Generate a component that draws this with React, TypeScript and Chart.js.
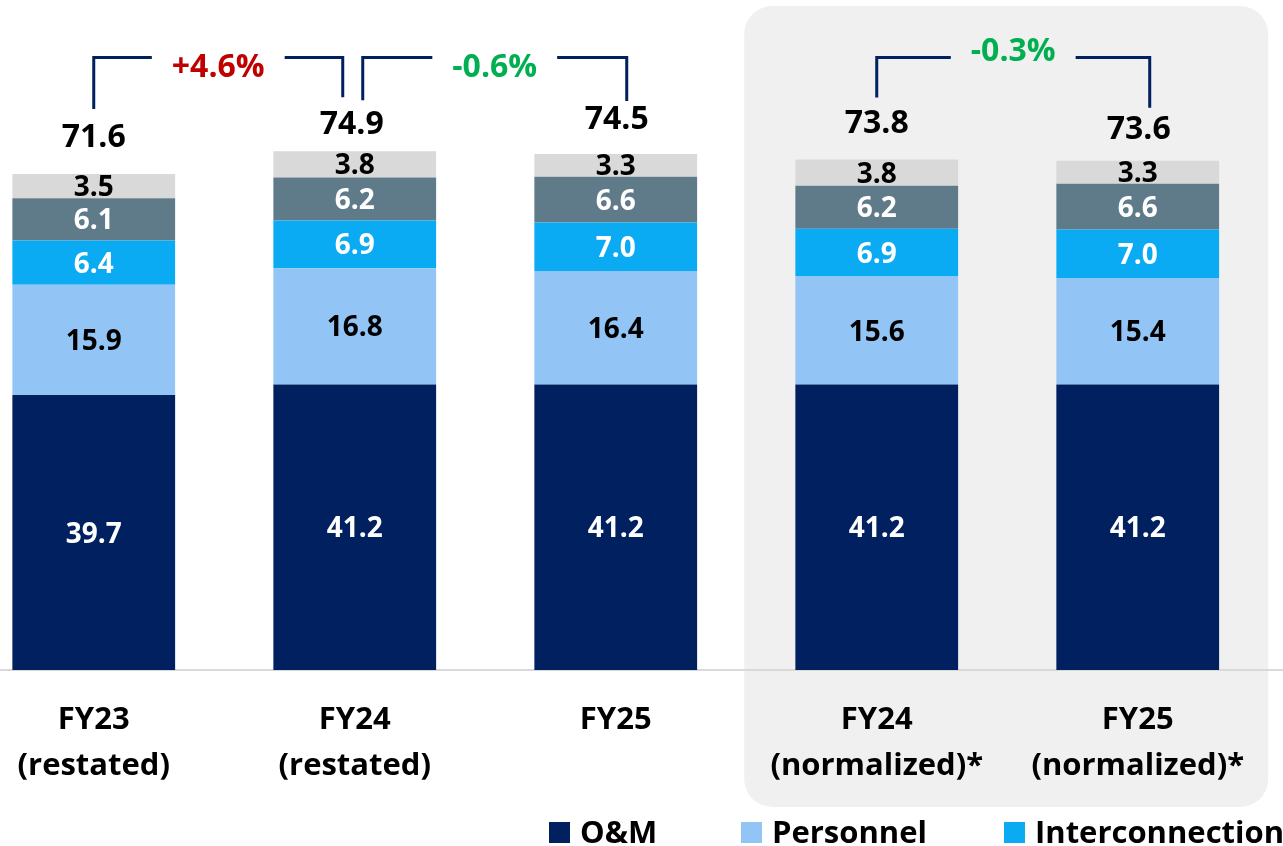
import { useEffect, useRef } from "react";
import { Chart, registerables } from "chart.js";

Chart.register(...registerables);

// ---- data ----
const categories: string[][] = [
  ["FY23", "(restated)"],
  ["FY24", "(restated)"],
  ["FY25"],
  ["FY24", "(normalized)*"],
  ["FY25", "(normalized)*"],
];
const seriesNames = ["O&M", "Personnel", "Interconnection", "Other costs", "Other"];
const omValues = [39.7, 41.2, 41.2, 41.2, 41.2];
const personnelValues = [15.9, 16.8, 16.4, 15.6, 15.4];
const interconnectionValues = [6.4, 6.9, 7.0, 6.9, 7.0];
const otherCostsValues = [6.1, 6.2, 6.6, 6.2, 6.6];
const otherValues = [3.5, 3.8, 3.3, 3.8, 3.3];
const totals = [71.6, 74.9, 74.5, 73.8, 73.6];
const changeLabels = ["+4.6%", "-0.6%", "-0.3%"];
const changeFrom = [0, 1, 3];
const changeTo = [1, 2, 4];

// ---- styles ----
const FONT = "'Open Sans', Lato, sans-serif";
const COLORS = ["#002060", "#92C5F5", "#0AABF2", "#5F7B8A", "#D9D9D9"];
const LABEL_COLORS = ["#FFFFFF", "#000000", "#FFFFFF", "#FFFFFF", "#000000"];
const NAVY = "#002060";
const RED = "#C00000";
const GREEN = "#00B050";
const CAP = 0.36; // half cap-height ratio for vertical centering

// layout tweaks (pixels)
const TOTAL_GAP = [39, 29, 36, 38, 33];
const TOTAL_DX = [0, -3, 1, 0, 1];
const BRACKET_DX = [[0, -12], [8, 11], [0, 12]];
const BRACKET_GAP = [[65, 54], [51, 53], [62, 53]];
const BRACKET_Y = 57.5;
const BRACKET_LABEL_DY = [8, 8, -8];

function roundRect(ctx: CanvasRenderingContext2D, x: number, y: number, w: number, h: number, r: number) {
  ctx.beginPath();
  ctx.moveTo(x + r, y);
  ctx.lineTo(x + w - r, y);
  ctx.arcTo(x + w, y, x + w, y + r, r);
  ctx.lineTo(x + w, y + h - r);
  ctx.arcTo(x + w, y + h, x + w - r, y + h, r);
  ctx.lineTo(x + r, y + h);
  ctx.arcTo(x, y + h, x, y + h - r, r);
  ctx.lineTo(x, y + r);
  ctx.arcTo(x, y, x + r, y, r);
  ctx.closePath();
}

const overlayPlugin = {
  id: "overlay",
  beforeDraw(chart: any) {
    const { ctx } = chart;
    const xs = chart.scales.x;
    ctx.save();
    ctx.fillStyle = "#FFFFFF";
    ctx.fillRect(0, 0, chart.width, chart.height);
    const l = xs.getPixelForValue(2.5) - 2;
    const r = xs.getPixelForValue(4.5);
    roundRect(ctx, l, 6, r - l, 801, 28);
    ctx.fillStyle = "#F0F0F0";
    ctx.fill();
    ctx.restore();
  },
  afterDatasetsDraw(chart: any) {
    const { ctx } = chart;
    ctx.save();
    ctx.textAlign = "center";
    ctx.textBaseline = "alphabetic";

    // segment labels
    const segSize = 28;
    ctx.font = `bold ${segSize}px ${FONT}`;
    chart.data.datasets.forEach((ds: any, d: number) => {
      const meta = chart.getDatasetMeta(d);
      meta.data.forEach((el: any, i: number) => {
        const cy = (el.y + el.base) / 2;
        ctx.fillStyle = LABEL_COLORS[d];
        ctx.fillText(Number(ds.data[i].y).toFixed(1), el.x, cy + segSize * CAP);
      });
    });

    // totals
    const topMeta = chart.getDatasetMeta(chart.data.datasets.length - 1);
    const totSize = 32;
    ctx.font = `bold ${totSize}px ${FONT}`;
    ctx.fillStyle = "#000000";
    const tops: number[] = [];
    const xsP: number[] = [];
    topMeta.data.forEach((el: any, i: number) => {
      tops.push(el.y);
      xsP.push(el.x);
      const cy = el.y - TOTAL_GAP[i];
      ctx.fillText(totals[i].toFixed(1), el.x + TOTAL_DX[i], cy + totSize * CAP);
    });

    // brackets
    const pctSize = 32;
    ctx.font = `bold ${pctSize}px ${FONT}`;
    changeLabels.forEach((lab, k) => {
      const a = changeFrom[k];
      const b = changeTo[k];
      const xl = xsP[a] + BRACKET_DX[k][0];
      const xr = xsP[b] + BRACKET_DX[k][1];
      const bl = tops[a] - BRACKET_GAP[k][0];
      const br = tops[b] - BRACKET_GAP[k][1];
      const cx = (xl + xr) / 2;
      const tw = ctx.measureText(lab).width;
      const half = tw / 2 + 20;
      ctx.strokeStyle = NAVY;
      ctx.lineWidth = 3;
      ctx.lineJoin = "miter";
      ctx.lineCap = "butt";
      ctx.beginPath();
      ctx.moveTo(xl, bl);
      ctx.lineTo(xl, BRACKET_Y);
      ctx.lineTo(cx - half, BRACKET_Y);
      ctx.stroke();
      ctx.beginPath();
      ctx.moveTo(cx + half, BRACKET_Y);
      ctx.lineTo(xr, BRACKET_Y);
      ctx.lineTo(xr, br);
      ctx.stroke();
      ctx.fillStyle = lab.startsWith("+") ? RED : GREEN;
      ctx.fillText(lab, cx, BRACKET_Y + BRACKET_LABEL_DY[k] + pctSize * CAP);
    });

    // legend (first three series visible, rest cut off at the right edge)
    const legX = [549, 741, 1004];
    const legSize = 31;
    ctx.font = `bold ${legSize}px ${FONT}`;
    ctx.textAlign = "left";
    legX.forEach((lx, i) => {
      ctx.fillStyle = chart.data.datasets[i].backgroundColor;
      ctx.fillRect(lx, 822, 21, 21);
      ctx.fillStyle = "#000000";
      ctx.fillText(chart.data.datasets[i].label, lx + 31, 843);
    });
    ctx.restore();
  },
};

export default function App() {
  const ref = useRef<HTMLCanvasElement>(null);
  useEffect(() => {
    const seriesValues = [omValues, personnelValues, interconnectionValues, otherCostsValues, otherValues];
    const chart = new Chart(ref.current as HTMLCanvasElement, {
      type: "bar",
      data: {
        datasets: seriesValues.map((vals, d) => ({
          label: seriesNames[d],
          data: vals.map((v, i) => ({ x: i, y: v })),
          backgroundColor: COLORS[d],
          borderWidth: 0,
          barPercentage: 0.6236,
          categoryPercentage: 1,
        })),
      } as any,
      options: {
        responsive: false,
        animation: false,
        devicePixelRatio: 1,
        layout: { padding: 0 },
        plugins: { legend: { display: false }, tooltip: { enabled: false } },
        scales: {
          x: {
            type: "linear",
            stacked: true,
            offset: false,
            min: -0.3592,
            max: 4.5566,
            grid: { display: false, drawTicks: true, tickLength: 27, offset: false },
            border: { display: true, color: "#D9D9D9", width: 2 },
            ticks: {
              stepSize: 1,
              includeBounds: false,
              autoSkip: false,
              maxRotation: 0,
              minRotation: 0,
              padding: 0,
              color: "#000000",
              font: { family: FONT, size: 31, weight: "bold", lineHeight: 1.484 },
              callback: (v: any) => (Number.isInteger(v) && categories[v] ? categories[v] : ""),
            },
            afterFit: (s: any) => {
              s.height = 176;
            },
          },
          y: {
            stacked: true,
            display: false,
            min: 0,
            max: 96.72,
          },
        },
      } as any,
      plugins: [overlayPlugin],
    });
    (document as any).fonts?.load(`bold 32px 'Open Sans'`).then(() => chart.update());
    return () => chart.destroy();
  }, []);
  return (
    <div style={{ position: "absolute", left: 0, top: 0, width: 1283, height: 846, overflow: "hidden" }}>
      <canvas ref={ref} width={1283} height={846} style={{ display: "block" }} />
    </div>
  );
}
